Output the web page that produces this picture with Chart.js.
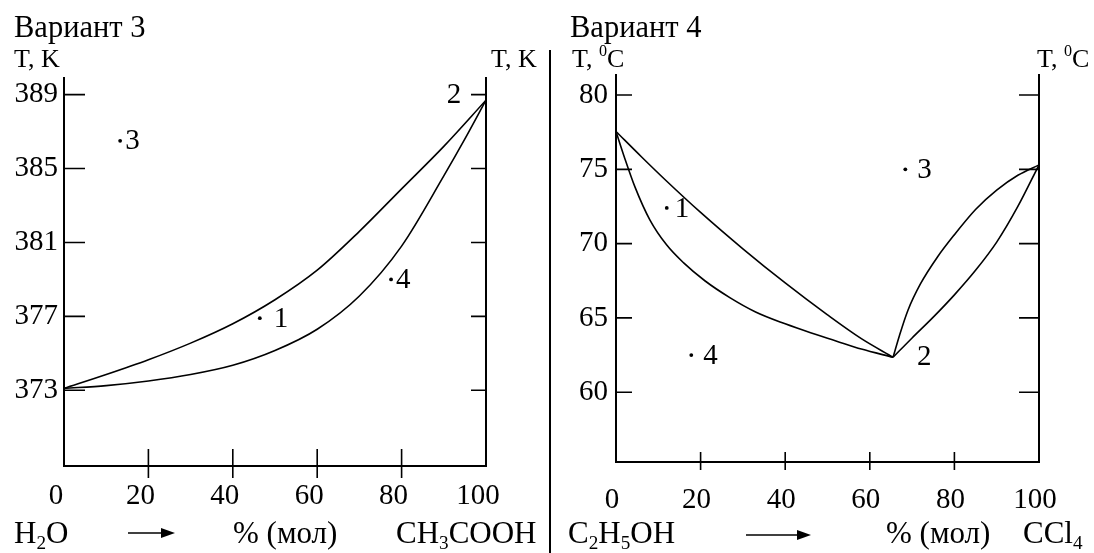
<!DOCTYPE html>
<html>
<head>
<meta charset="utf-8">
<script src="https://cdn.jsdelivr.net/npm/chart.js@4.4.1/dist/chart.umd.min.js"></script>
<style>
  body { margin: 0; background: #fff; width: 1094px; height: 553px; overflow: hidden; position: relative; }
  .box { position: absolute; top: 0; height: 553px; }
  #divider { position: absolute; left: 549px; top: 50px; width: 2px; height: 503px; background: #000; }
</style>
</head>
<body>
<div class="box" style="left:0;width:550px"><canvas id="left"></canvas></div>
<div id="divider"></div>
<div class="box" style="left:550px;width:544px"><canvas id="right"></canvas></div>
<script>
const xTicks = [0, 20, 40, 60, 80, 100];

// Вариант 3: H2O - CH3COOH, T in K
const kTicks = [373, 377, 381, 385, 389];
const acidUpperX = [0, 10, 20, 30, 40, 50, 60, 70, 80, 90, 100];
const acidUpperT = [373.1, 373.85, 374.65, 375.55, 376.6, 377.9, 379.5, 381.6, 383.9, 386.2, 388.7];
const acidLowerX = [0, 10, 20, 30, 40, 50, 60, 70, 80, 90, 95, 100];
const acidLowerT = [373.1, 373.25, 373.5, 373.85, 374.35, 375.15, 376.3, 378.1, 380.8, 384.6, 386.6, 388.7];
const acidDotNames = ['1', '3', '4'];
const acidDotX = [46.4, 13.3, 77.5];
const acidDotT = [376.9, 386.5, 379.0];
const acidTagNames = ['2'];
const acidTagX = [92.4];
const acidTagT = [389.0];

// Вариант 4: C2H5OH - CCl4, T in °C
const cTicks = [60, 65, 70, 75, 80];
const ethUpperLX = [0, 6, 12, 20, 30, 40, 50, 58, 65.5];
const ethUpperLT = [77.55, 75.85, 74.2, 72.1, 69.65, 67.35, 65.2, 63.6, 62.35];
const ethLowerLX = [0, 2, 4.5, 8, 12, 16, 21, 27, 33, 40, 46, 52, 58, 65.5];
const ethLowerLT = [77.55, 75.8, 73.8, 71.6, 69.9, 68.7, 67.5, 66.35, 65.4, 64.6, 64.0, 63.45, 62.9, 62.35];
const ethUpperRX = [65.5, 67, 69, 72, 76, 80, 85, 90, 95, 100];
const ethUpperRT = [62.35, 63.8, 65.5, 67.3, 69.1, 70.6, 72.3, 73.6, 74.6, 75.3];
const ethLowerRX = [65.5, 70, 75, 80, 85, 90, 95, 100];
const ethLowerRT = [62.35, 63.65, 65.05, 66.55, 68.2, 70.1, 72.5, 75.3];
const ethDotNames = ['1', '3', '4'];
const ethDotX = [12.0, 68.4, 17.8];
const ethDotT = [72.4, 75.0, 62.5];
const ethTagNames = ['2'];
const ethTagX = [72.9];
const ethTagT = [62.4];

const serif = "'Liberation Serif', 'Times New Roman', serif";

function curve(xs, ts) {
    return {
        data: xs.map((x, i) => ({ x: x, y: ts[i] })),
        showLine: true,
        borderColor: '#000',
        borderWidth: 1.6,
        pointRadius: 0,
        cubicInterpolationMode: 'monotone',
        fill: false
    };
}

function dots(xs, ts) {
    return {
        data: xs.map((x, i) => ({ x: x, y: ts[i] })),
        showLine: false,
        pointRadius: 1.9,
        pointBorderWidth: 0,
        pointBackgroundColor: '#000'
    };
}

function rich(ctx, parts, x, y, size) {
    ctx.textAlign = 'left';
    ctx.textBaseline = 'alphabetic';
    parts.forEach(p => {
        const mode = p[1];
        const fs = mode ? size * 0.62 : size;
        ctx.font = fs + 'px ' + serif;
        const dy = mode === 'sub' ? size * 0.2 : (mode === 'sup' ? -size * 0.42 : 0);
        ctx.fillText(p[0], x, y + dy);
        x += ctx.measureText(p[0]).width;
    });
}

function arrow(ctx, x1, x2, y) {
    ctx.beginPath();
    ctx.lineWidth = 1.6;
    ctx.moveTo(x1, y);
    ctx.lineTo(x2 - 10, y);
    ctx.stroke();
    ctx.beginPath();
    ctx.moveTo(x2 - 14, y - 5);
    ctx.lineTo(x2, y);
    ctx.lineTo(x2 - 14, y + 5);
    ctx.closePath();
    ctx.fill();
}

function decor(o) {
    return {
        id: 'decor',
        afterDraw(chart) {
            const ctx = chart.ctx, a = chart.chartArea;
            const sx = chart.scales.x, sy = chart.scales.y;
            ctx.save();
            ctx.strokeStyle = '#000';
            ctx.fillStyle = '#000';
            ctx.lineWidth = 1.6;
            ctx.beginPath();
            sy.ticks.forEach(t => {
                const py = sy.getPixelForValue(t.value);
                ctx.moveTo(a.left, py);
                ctx.lineTo(a.left + o.tickL, py);
                ctx.moveTo(a.right - o.tickR, py);
                ctx.lineTo(a.right, py);
            });
            sx.ticks.forEach(t => {
                if (t.value <= sx.min || t.value >= sx.max) return;
                const px = sx.getPixelForValue(t.value);
                ctx.moveTo(px, a.bottom - o.tickUp);
                ctx.lineTo(px, a.bottom + o.tickDown);
            });
            ctx.stroke();

            ctx.font = '29px ' + serif;
            ctx.textBaseline = 'middle';
            ctx.textAlign = 'left';
            o.names.forEach((n, i) => {
                ctx.fillText(n, sx.getPixelForValue(o.dx[i]) + o.gaps[i], sy.getPixelForValue(o.dt[i]) + 1);
            });
            ctx.textAlign = 'center';
            o.tags.forEach((n, i) => {
                ctx.fillText(n, sx.getPixelForValue(o.tx[i]), sy.getPixelForValue(o.tt[i]) + 1);
            });
            o.text(ctx);
            ctx.restore();
        }
    };
}

function makeChart(id, o) {
    const tickFont = { family: serif, size: 29 };
    return new Chart(document.getElementById(id), {
        type: 'scatter',
        data: { datasets: o.datasets },
        options: {
            responsive: true,
            maintainAspectRatio: false,
            animation: false,
            layout: { padding: { top: o.top, left: 0, right: 0, bottom: 0 } },
            plugins: { legend: { display: false }, tooltip: { enabled: false } },
            scales: {
                x: {
                    type: 'linear',
                    min: 0,
                    max: 100,
                    afterBuildTicks: s => { s.ticks = xTicks.map(v => ({ value: v })); },
                    afterFit: s => { s.height = o.xHeight; },
                    ticks: { font: tickFont, color: '#000', padding: o.xPad, labelOffset: o.xShift, maxRotation: 0, autoSkip: false },
                    grid: { display: false, drawTicks: false },
                    border: { display: true, color: '#000', width: 2 }
                },
                y: {
                    type: 'linear',
                    position: 'left',
                    min: o.yMin,
                    max: o.yMax,
                    afterBuildTicks: s => { s.ticks = o.yTicks.map(v => ({ value: v })); },
                    afterFit: s => { s.width = o.yWidth; },
                    ticks: { font: tickFont, color: '#000', padding: o.yPad },
                    grid: { display: false, drawTicks: false },
                    border: { display: true, color: '#000', width: 2 }
                },
                y2: {
                    type: 'linear',
                    position: 'right',
                    min: o.yMin,
                    max: o.yMax,
                    afterFit: s => { s.width = o.y2Width; },
                    ticks: { display: false },
                    grid: { display: false, drawTicks: false },
                    border: { display: true, color: '#000', width: 2 }
                }
            }
        },
        plugins: [decor(o)]
    });
}

makeChart('left', {
    datasets: [curve(acidUpperX, acidUpperT), curve(acidLowerX, acidLowerT), dots(acidDotX, acidDotT)],
    yMin: 368.9, yMax: 389.9, yTicks: kTicks,
    top: 78, yWidth: 64, y2Width: 64, xHeight: 87,
    xPad: 13, xShift: -8, yPad: 6,
    tickL: 21, tickR: 15, tickUp: 17, tickDown: 12,
    names: acidDotNames, dx: acidDotX, dt: acidDotT, gaps: [14, 5, 5],
    tags: acidTagNames, tx: acidTagX, tt: acidTagT,
    text: ctx => {
        rich(ctx, [['Вариант 3']], 14, 37, 30.5);
        rich(ctx, [['T, K']], 14, 67, 26);
        rich(ctx, [['T, K']], 491, 67, 26);
        rich(ctx, [['H'], ['2', 'sub'], ['O']], 14, 543, 31);
        arrow(ctx, 128, 175, 533);
        rich(ctx, [['% (мол)']], 233, 543, 31);
        rich(ctx, [['CH'], ['3', 'sub'], ['COOH']], 396, 543, 31);
    }
});

makeChart('right', {
    datasets: [curve(ethUpperLX, ethUpperLT), curve(ethLowerLX, ethLowerLT),
               curve(ethUpperRX, ethUpperRT), curve(ethLowerRX, ethLowerRT), dots(ethDotX, ethDotT)],
    yMin: 55.3, yMax: 81.35, yTicks: cTicks,
    top: 75, yWidth: 66, y2Width: 55, xHeight: 91,
    xPad: 21, xShift: -4, yPad: 8,
    tickL: 16, tickR: 20, tickUp: 10, tickDown: 8,
    names: ethDotNames, dx: ethDotX, dt: ethDotT, gaps: [8, 12, 12],
    tags: ethTagNames, tx: ethTagX, tt: ethTagT,
    text: ctx => {
        rich(ctx, [['Вариант 4']], 20, 37, 30.5);
        rich(ctx, [['T, '], ['0', 'sup'], ['C']], 22, 67, 26);
        rich(ctx, [['T, '], ['0', 'sup'], ['C']], 487, 67, 26);
        rich(ctx, [['C'], ['2', 'sub'], ['H'], ['5', 'sub'], ['OH']], 18, 543, 31);
        arrow(ctx, 196, 261, 535);
        rich(ctx, [['% (мол)']], 336, 543, 31);
        rich(ctx, [['CCl'], ['4', 'sub']], 473, 543, 31);
    }
});
</script>
</body>
</html>
